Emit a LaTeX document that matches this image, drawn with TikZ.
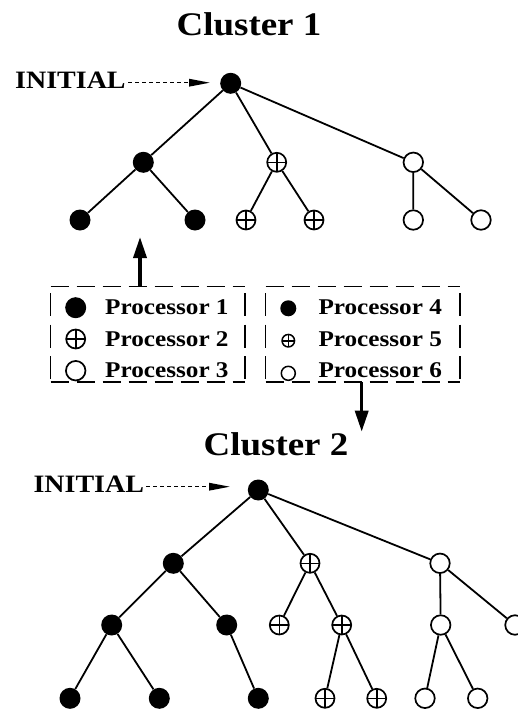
\documentclass[tikz,border=0pt]{standalone}
\usepackage{fontspec}
\setmainfont{Liberation Serif}[FakeStretch=1.12]
\usetikzlibrary{arrows.meta}
\begin{document}
\begin{tikzpicture}[x=1pt,y=-1pt,
  edge/.style={line width=1.8pt},
  fnode/.style={circle,fill=black,minimum size=21pt,inner sep=0pt},
  onode/.style={circle,draw,line width=1.7pt,fill=white,minimum size=19.5pt,inner sep=0pt},
  pnode/.style={circle,draw,line width=1.7pt,fill=white,minimum size=19pt,inner sep=0pt,
    path picture={\draw[line width=1.6pt] (path picture bounding box.north) -- (path picture bounding box.south)
      (path picture bounding box.west) -- (path picture bounding box.east);}},
  sfnode/.style={circle,fill=black,minimum size=16pt,inner sep=0pt},
  sonode/.style={circle,draw,line width=1.5pt,fill=white,minimum size=14pt,inner sep=0pt},
  spnode/.style={pnode,line width=1.5pt,minimum size=12.5pt},
  title/.style={inner sep=0pt,anchor=base,font=\bfseries\fontsize{33}{33}\selectfont},
  initlabel/.style={inner sep=0pt,anchor=base west,font=\bfseries\fontsize{25}{25}\selectfont},
  legtext/.style={inner sep=0pt,anchor=base west,font=\bfseries\fontsize{22.5}{22.5}\selectfont},
  initarrow/.style={line width=1.5pt,dash pattern=on 4pt off 3pt,-{Triangle[length=21pt,width=7.5pt]}},
  thickarrow/.style={line width=3.5pt,-{Triangle[length=21pt,width=13pt]}},
  legborder/.style={line width=1.1pt,dash pattern=on 18pt off 8pt},
  legside/.style={line width=1.1pt,dash pattern=on 23pt off 8.5pt,dash phase=25pt}
]
\useasboundingbox (0,0) rectangle (518,712);
\clip (0,0) rectangle (518,712);

% ---------- Cluster 1 ----------
\node[title] (t1) at (249,35) {Cluster 1};
\node[initlabel] (i1) at (15,88.3) {INITIAL};
\node[fnode] (r1) at (230.7,83.3) {};
\coordinate (i1s) at (128,82.7);
\coordinate (i1e) at (210,82.7);
\draw[initarrow] (i1s) -- (i1e);

\node[fnode] (a1) at (143.3,162.3) {};
\node[pnode] (b1) at (276.7,162.3) {};
\node[onode] (c1) at (413.3,162.3) {};
\node[fnode] (a11) at (80,220) {};
\node[fnode] (a12) at (195,220) {};
\node[pnode] (b11) at (246,220) {};
\node[pnode] (b12) at (314,220) {};
\node[onode] (c11) at (413.3,220) {};
\node[onode] (c12) at (481,220) {};
\draw[edge] (r1) -- (a1) (r1) -- (b1) (r1) -- (c1)
  (a1) -- (a11) (a1) -- (a12) (b1) -- (b11) (b1) -- (b12)
  (c1) -- (c11) (c1) -- (c12);

% ---------- Legend ----------
\coordinate (L1a) at (50.7,286.7);
\coordinate (L1b) at (245,382);
\coordinate (L2a) at (265.7,286.7);
\coordinate (L2b) at (460,382);
\draw[legborder] (L1a) -- (L1a -| L1b) (L1a |- L1b) -- (L1b);
\draw[legside] (L1a) -- (L1a |- L1b) (L1a -| L1b) -- (L1b);
\draw[legborder] (L2a) -- (L2a -| L2b) (L2a |- L2b) -- (L2b);
\draw[legside] (L2a) -- (L2a |- L2b) (L2a -| L2b) -- (L2b);

\node[fnode] (p1) at (75.7,307.7) {};
\node[pnode] (p2) at (75.7,339) {};
\node[onode] (p3) at (75.7,370.7) {};
\node[legtext] (lt1) at (105,314) {Processor 1};
\node[legtext] (lt2) at (105,346) {Processor 2};
\node[legtext] (lt3) at (105,377.7) {Processor 3};
\node[sfnode] (p4) at (288.3,308.3) {};
\node[spnode] (p5) at (288.3,340.7) {};
\node[sonode] (p6) at (288.3,373.3) {};
\node[legtext] (lt4) at (318.3,314) {Processor 4};
\node[legtext] (lt5) at (318.3,346) {Processor 5};
\node[legtext] (lt6) at (318.3,377.7) {Processor 6};

\coordinate (up0) at (140,286.7);
\coordinate (up1) at (140,237);
\draw[thickarrow] (up0) -- (up1);
\coordinate (dn0) at (361.7,382);
\coordinate (dn1) at (361.7,431.7);
\draw[thickarrow] (dn0) -- (dn1);

% ---------- Cluster 2 ----------
\node[title] (t2) at (276,455) {Cluster 2};
\node[initlabel] (i2) at (33.3,492.7) {INITIAL};
\node[fnode] (r2) at (258.3,490) {};
\coordinate (i2s) at (146,486.7);
\coordinate (i2e) at (230,486.7);
\draw[initarrow] (i2s) -- (i2e);

\node[fnode] (a2) at (173.3,563.3) {};
\node[pnode] (b2) at (310,563.3) {};
\node[onode] (c2) at (440,563.3) {};
\node[fnode] (a21) at (111.7,625) {};
\node[fnode] (a22) at (226.7,625) {};
\node[pnode] (b21) at (279.3,625) {};
\node[pnode] (b22) at (341.7,625) {};
\node[onode] (c21) at (440.7,625) {};
\node[onode] (c22) at (515,625) {};
\node[fnode] (a211) at (70,698.3) {};
\node[fnode] (a212) at (159.3,698.3) {};
\node[fnode] (a221) at (258.3,698.3) {};
\node[pnode] (b221) at (325,698.3) {};
\node[pnode] (b222) at (376.7,698.3) {};
\node[onode] (c211) at (425,698.3) {};
\node[onode] (c212) at (477.7,698.3) {};
\draw[edge] (r2) -- (a2) (r2) -- (b2) (r2) -- (c2)
  (a2) -- (a21) (a2) -- (a22) (b2) -- (b21) (b2) -- (b22)
  (c2) -- (c21) (c2) -- (c22)
  (a21) -- (a211) (a21) -- (a212) (a22) -- (a221)
  (b22) -- (b221) (b22) -- (b222)
  (c21) -- (c211) (c21) -- (c212);
\end{tikzpicture}
\end{document}
